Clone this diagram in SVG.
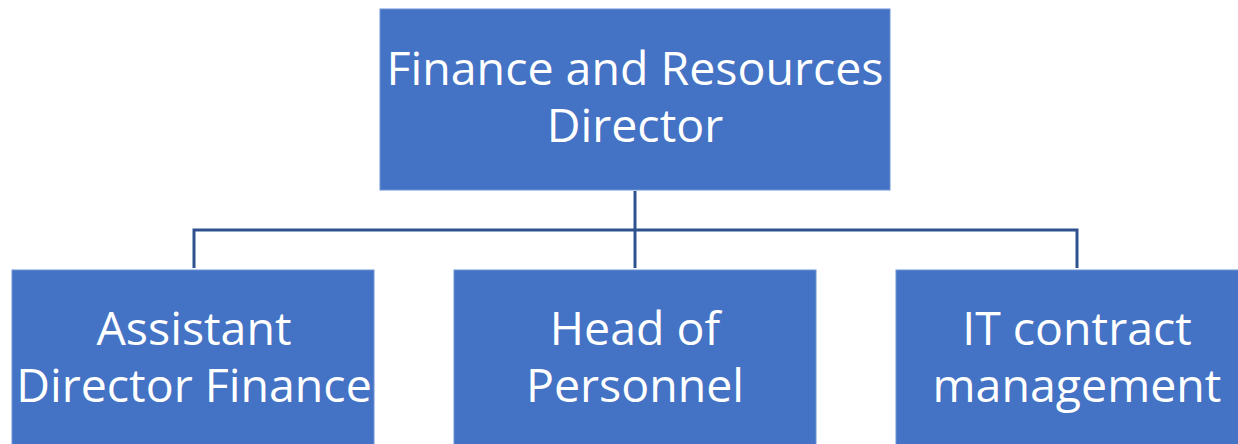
<svg xmlns="http://www.w3.org/2000/svg" width="1238" height="444" viewBox="0 0 1238 444">
  <style>
    .box { fill: #4472C4; stroke: #6F94D6; stroke-width: 1; }
    .label { fill: #FFFFFF; font-family: "Open Sans", "Liberation Sans", sans-serif; font-size: 46.5px; text-anchor: middle; }
    .link { fill: none; stroke: #2F528F; stroke-width: 3; }
  </style>
  <rect width="1238" height="444" fill="#FFFFFF"/>

  <g id="connectors">
    <path class="link" d="M635 191 V268"/>
    <path class="link" d="M194 268 V230 H1077 V268"/>
  </g>

  <g id="node-director">
    <rect class="box" x="380" y="9" width="510" height="181"/>
    <text class="label" x="635" y="85">Finance and Resources</text>
    <text class="label" x="635" y="142">Director</text>
  </g>

  <g id="node-assistant">
    <rect class="box" x="12" y="270" width="362" height="181"/>
    <text class="label" x="194" y="345">Assistant</text>
    <text class="label" x="194" y="402">Director Finance</text>
  </g>

  <g id="node-personnel">
    <rect class="box" x="454" y="270" width="362" height="181"/>
    <text class="label" x="635" y="345">Head of</text>
    <text class="label" x="635" y="402">Personnel</text>
  </g>

  <g id="node-it">
    <rect class="box" x="896" y="270" width="362" height="181"/>
    <text class="label" x="1077" y="345">IT contract</text>
    <text class="label" x="1077" y="402">management</text>
  </g>
</svg>
